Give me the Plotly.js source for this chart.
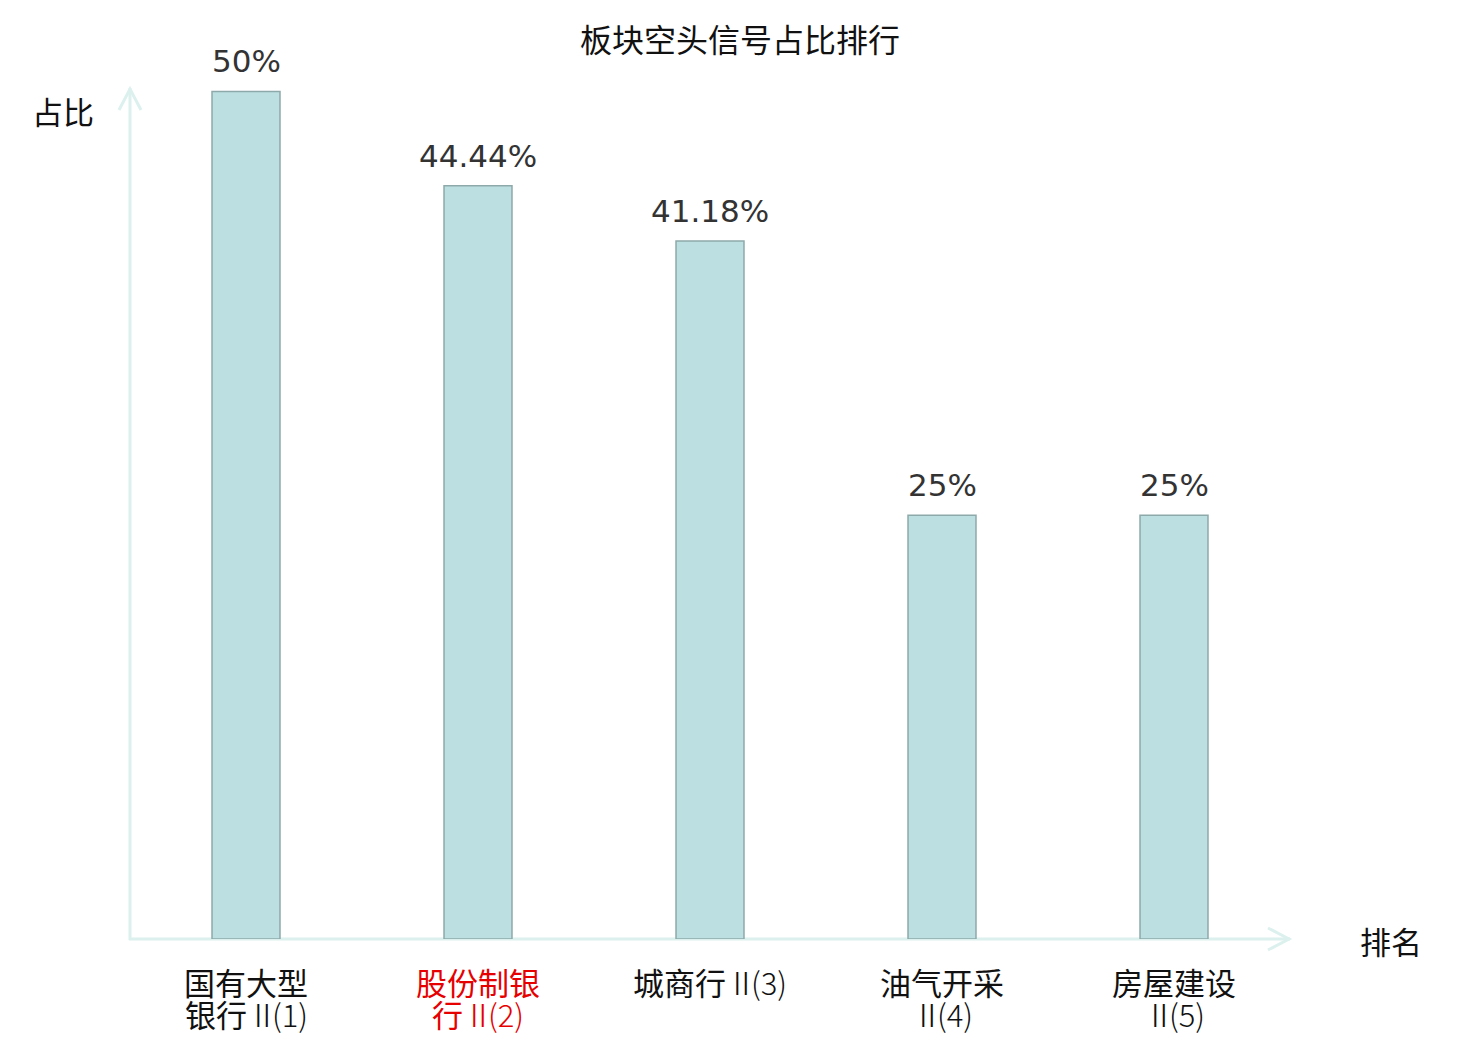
<!DOCTYPE html>
<html>
<head>
<meta charset="utf-8">
<script src="https://cdn.plot.ly/plotly-3.0.1.min.js"></script>
<style>html,body{margin:0;padding:0;background:#fff;}#chart{width:1480px;height:1040px;}</style>
</head>
<body>
<div id="chart"></div>
<script>
// ---- data ----
var categories = ["国有大型银行Ⅱ(1)", "股份制银行Ⅱ(2)", "城商行Ⅱ(3)", "油气开采Ⅱ(4)", "房屋建设Ⅱ(5)"];
var labelLine1 = ["国有大型", "股份制银", "城商行", "油气开采", "房屋建设"];
var labelLine1Tail = ["", "", "(3)", "", ""];
var labelLine2Head = ["银行", "行", "", "", ""];
var labelLine2Tail = ["(1)", "(2)", "", "(4)", "(5)"];
var labelLine1Roman = ["", "", "Ⅱ", "", ""];
var labelLine2Roman = ["Ⅱ", "Ⅱ", "", "Ⅱ", "Ⅱ"];
var labelColors = ["#111111", "#e60000", "#111111", "#111111", "#111111"];
var values = [50, 44.44, 41.18, 25, 25];
var valueLabels = ["50%", "44.44%", "41.18%", "25%", "25%"];

var CJK = '"Noto Sans CJK SC", "Noto Sans", sans-serif';
var LAT = '"DejaVu Sans", sans-serif';
var axisColor = '#dcf1ee';

function tail(roman, rest) {
  if (!roman && !rest) return '';
  return '<span style="font-weight:300;letter-spacing:-6px">' + roman + '</span>' +
         '<span style="font-weight:300">' + rest + '</span>';
}

var trace = {
  type: 'bar',
  x: categories,
  y: values,
  width: 0.293,
  marker: {color: '#bce0e2', line: {color: '#8ea9aa', width: 1.5}},
  hoverinfo: 'none'
};

var annotations = [];
values.forEach(function (v, i) {
  annotations.push({
    x: i, y: v, xref: 'x', yref: 'y', text: valueLabels[i], showarrow: false,
    yanchor: 'bottom', yshift: 10, font: {family: LAT, size: 31, color: '#333333'}
  });
  annotations.push({
    x: i, y: 0, xref: 'x', yref: 'y', text: labelLine1[i] + tail(labelLine1Roman[i], labelLine1Tail[i]),
    showarrow: false, yanchor: 'middle', yshift: -42,
    font: {family: CJK, size: 31, color: labelColors[i]}
  });
  var l2 = labelLine2Head[i] + tail(labelLine2Roman[i], labelLine2Tail[i]);
  if (l2) {
    annotations.push({
      x: i, y: 0, xref: 'x', yref: 'y', text: l2, showarrow: false,
      yanchor: 'middle', yshift: -74, font: {family: CJK, size: 31, color: labelColors[i]}
    });
  }
});
annotations.push({
  xref: 'paper', yref: 'paper', x: (63 - 130) / 1160, y: (939 - 110) / 851,
  text: '占比', showarrow: false, xanchor: 'center', yanchor: 'middle',
  font: {family: CJK, size: 31, color: '#111111'}
});
annotations.push({
  xref: 'paper', yref: 'paper', x: (1391 - 130) / 1160, y: (939 - 941) / 851,
  text: '排名', showarrow: false, xanchor: 'center', yanchor: 'middle',
  font: {family: CJK, size: 31, color: '#111111'}
});

function px(xp) { return (xp - 130) / 1160; }
function py(yp) { return (939 - yp) / 851; }

var shapes = [
  {type: 'line', xref: 'paper', yref: 'paper', x0: px(129), y0: py(939), x1: 1, y1: py(939),
   line: {color: axisColor, width: 3}, layer: 'below'},
  {type: 'line', xref: 'paper', yref: 'paper', x0: 0, y0: py(940), x1: 0, y1: 1,
   line: {color: axisColor, width: 3}, layer: 'below'},
  {type: 'path', xref: 'paper', yref: 'paper',
   path: 'M' + px(119) + ',' + py(110) + ' L' + px(130) + ',' + py(89) + ' L' + px(141) + ',' + py(110),
   line: {color: axisColor, width: 3}, layer: 'below'},
  {type: 'path', xref: 'paper', yref: 'paper',
   path: 'M' + px(1268) + ',' + py(928) + ' L' + px(1289) + ',' + py(939) + ' L' + px(1268) + ',' + py(950),
   line: {color: axisColor, width: 3}, layer: 'below'}
];

var layout = {
  width: 1480, height: 1040,
  margin: {l: 130, r: 190, t: 88, b: 101, pad: 0},
  paper_bgcolor: '#ffffff', plot_bgcolor: '#ffffff',
  showlegend: false,
  title: {text: '板块空头信号占比排行', x: 0.5, xanchor: 'center', y: 1 - 41 / 1040, yanchor: 'middle',
          yref: 'container', font: {family: CJK, size: 32, color: '#111111'}},
  xaxis: {type: 'category', range: [-0.5, 4.5], showticklabels: false, showline: false,
          showgrid: false, zeroline: false, ticks: '', fixedrange: true},
  yaxis: {range: [0, 50.2], showticklabels: false, showline: false, showgrid: false,
          zeroline: false, ticks: '', fixedrange: true},
  annotations: annotations,
  shapes: shapes
};

Plotly.newPlot('chart', [trace], layout, {displayModeBar: false, staticPlot: true});
</script>
</body>
</html>
